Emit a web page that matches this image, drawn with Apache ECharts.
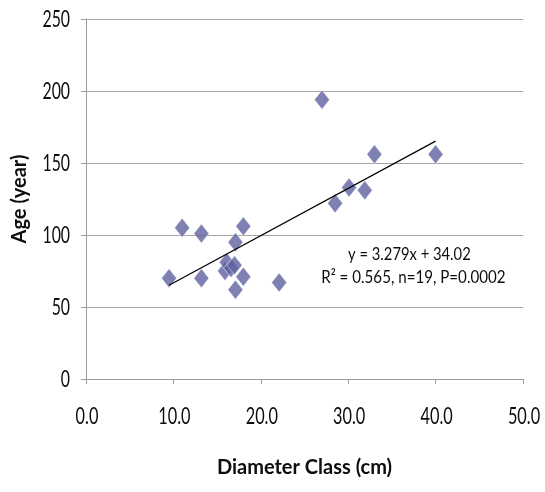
<!DOCTYPE html>
<html>
<head>
<meta charset="utf-8">
<script src="https://cdn.jsdelivr.net/npm/echarts@6/dist/echarts.min.js"></script>
<style>
  html, body { margin: 0; padding: 0; background: #fff; }
  #chart { width: 545px; height: 492px; }
</style>
</head>
<body>
<div id="chart"></div>
<script>
// Tree diameter class (cm) vs. age (years)
const diameterCm = [9.5, 11.0, 13.2, 13.2, 15.9, 16.1, 16.6, 17.0, 17.1, 17.1, 18.0, 18.0, 22.1, 27.0, 28.5, 30.1, 31.9, 33.0, 40.0];
const ageYears   = [70, 105, 101, 70, 75, 81, 77, 79, 95, 62, 106, 71, 67, 194, 122, 133, 131, 156, 156];

// Linear fit reported for the sample
const fitSlope = 3.279;
const fitIntercept = 34.02;
const fitRange = [9.5, 40.0];
const fitLines = ['y = 3.279x + 34.02', 'R\u00b2 = 0.565, n=19, P=0.0002'];

const xTicks = [0, 10, 20, 30, 40, 50];
const yTicks = [0, 50, 100, 150, 200, 250];
const xTickLabels = ['0.0', '10.0', '20.0', '30.0', '40.0', '50.0'];
const yTickLabels = ['0', '50', '100', '150', '200', '250'];

const axisGray = '#9c9c9c';
const textColor = '#0d0d0d';

const points = diameterCm.map((d, i) => [d, ageYears[i]]);
const fitData = fitRange.map(x => [x, fitSlope * x + fitIntercept]);

const chart = echarts.init(document.getElementById('chart'), null, { renderer: 'canvas' });
chart.setOption({
  animation: false,
  backgroundColor: '#ffffff',
  grid: { left: 86, top: 19, right: 22, bottom: 113, containLabel: false },
  xAxis: {
    type: 'value',
    min: xTicks[0], max: xTicks[xTicks.length - 1], interval: 10,
    name: 'Diameter Class (cm)',
    nameLocation: 'middle',
    nameGap: 79,
    nameTextStyle: { fontFamily: 'Lato', fontWeight: 'bold', fontSize: 20, color: textColor },
    axisLine: { show: true, lineStyle: { color: axisGray, width: 1 } },
    axisTick: { show: true, inside: false, length: 5, lineStyle: { color: axisGray } },
    splitLine: { show: false },
    axisLabel: { show: false }
  },
  yAxis: {
    type: 'value',
    min: yTicks[0], max: yTicks[yTicks.length - 1], interval: 50,
    name: 'Age (year)',
    nameLocation: 'middle',
    nameGap: 56,
    nameRotate: 90,
    nameTextStyle: { fontFamily: 'Lato', fontWeight: 'bold', fontSize: 20, color: textColor },
    axisLine: { show: true, lineStyle: { color: axisGray, width: 1 } },
    axisTick: { show: true, inside: false, length: 5, lineStyle: { color: axisGray } },
    splitLine: { show: true, lineStyle: { color: '#a6a6a6', width: 1 } },
    axisLabel: { show: false }
  },
  series: [
    {
      type: 'scatter',
      data: points,
      symbol: 'diamond',
      symbolSize: [15, 19],
      itemStyle: { color: '#5f61a0', borderColor: '#ffffff', borderWidth: 0.5 },
      z: 3
    },
    {
      type: 'line',
      data: fitData,
      symbol: 'none',
      lineStyle: { color: '#000000', width: 1.2 },
      z: 4
    }
  ]
});

// Narrow, tall lettering: a text element squeezed horizontally about its anchor
function narrowText(text, x, y, size, squeeze, align) {
  return {
    type: 'text',
    x: x, y: y,
    scaleX: squeeze, scaleY: 1,
    silent: true,
    style: {
      x: 0, y: 0, text: text,
      textAlign: align, textVerticalAlign: 'middle',
      font: size + 'px Lato', fill: textColor
    }
  };
}

const labels = [];
xTicks.forEach((v, i) => {
  const p = chart.convertToPixel({ gridIndex: 0 }, [v, yTicks[0]]);
  labels.push(narrowText(xTickLabels[i], p[0] + 1, p[1] + 37, 24, 0.68, 'center'));
});
yTicks.forEach((v, i) => {
  const p = chart.convertToPixel({ gridIndex: 0 }, [xTicks[0], v]);
  labels.push(narrowText(yTickLabels[i], p[0] - 16, p[1], 24, 0.66, 'right'));
});

// Fit equation, placed in data space right of the cluster
const eqAnchor = chart.convertToPixel({ gridIndex: 0 }, [37.0, 86.5]);
labels.push(narrowText(fitLines[0], eqAnchor[0], eqAnchor[1], 18, 0.82, 'center'));
labels.push(narrowText(fitLines[1], eqAnchor[0] + 4, eqAnchor[1] + 23, 18, 0.84, 'center'));

chart.setOption({ graphic: labels });
</script>
</body>
</html>
